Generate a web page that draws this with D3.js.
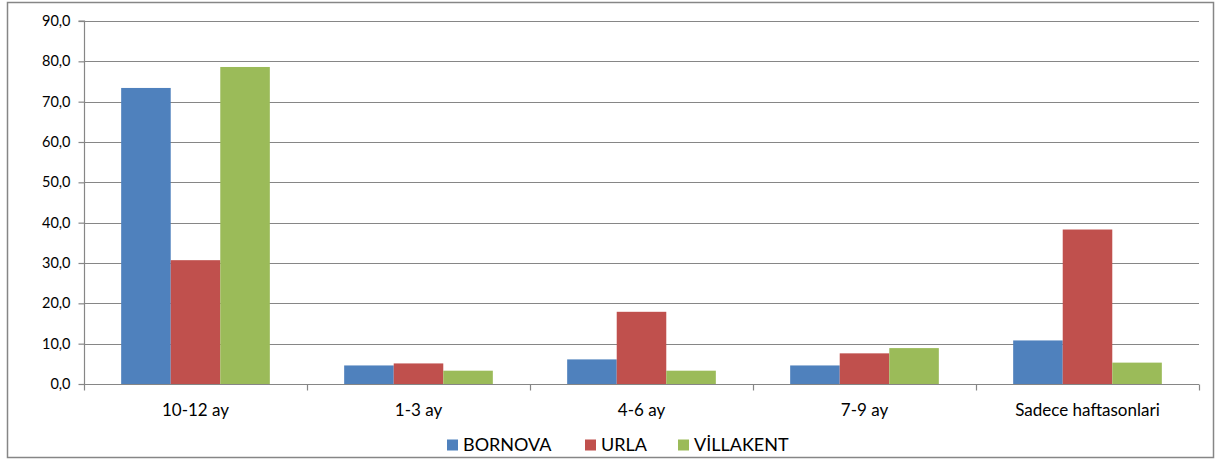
<!DOCTYPE html>
<html><head><meta charset="utf-8">
<script src="https://cdn.jsdelivr.net/npm/d3@7"></script>
<style>body{margin:0;background:#fff}svg{display:block;font-family:Lato,"Open Sans",sans-serif}</style>
</head><body><svg id="c" width="1217" height="461"></svg>
<script>
const categories = ["10-12 ay","1-3 ay","4-6 ay","7-9 ay","Sadece haftasonlari"];
const seriesNames = ["BORNOVA","URLA","VİLLAKENT"];
const bornova = [73.4, 4.6, 6.1, 4.6, 10.8];
const urla = [30.7, 5.1, 17.9, 7.6, 38.3];
const villakent = [78.6, 3.3, 3.3, 8.9, 5.3];
const yTicks = [0,10,20,30,40,50,60,70,80,90];
const colors = ["#4F81BD","#C0504D","#9BBB59"];
const seriesVals = [bornova, urla, villakent];

const svg = d3.select("#c");
svg.append("rect").attr("x",7.5).attr("y",2.5).attr("width",1206).attr("height",455)
  .attr("fill","#fff").attr("stroke","#868686").attr("stroke-width",1.5);

const m = {l:84, r:1199, t:21, b:384};
const y = d3.scaleLinear().domain([0,90]).range([m.b,m.t]);
const x0 = d3.scaleBand().domain(categories).range([m.l,m.r]).paddingInner(0).paddingOuter(0);
const x1 = d3.scaleBand().domain(seriesNames).range([0,x0.bandwidth()]).paddingInner(0).paddingOuter(0.75);

// gridlines
svg.append("g").selectAll("line").data(yTicks.filter(d=>d>0)).join("line")
  .attr("x1",m.l).attr("x2",m.r).attr("y1",d=>Math.round(y(d))+0.5).attr("y2",d=>Math.round(y(d))+0.5)
  .attr("stroke","#868686").attr("stroke-width",1.2);

// bars
const g = svg.append("g");
categories.forEach((c,i)=>{
  seriesNames.forEach((s,j)=>{
    g.append("rect").attr("x",x0(c)+x1(s)).attr("width",x1.bandwidth())
      .attr("y",y(seriesVals[j][i])).attr("height",y(0)-y(seriesVals[j][i]))
      .attr("fill",colors[j]);
  });
});

// y axis
const yAxis = d3.axisLeft(y).tickValues(yTicks).tickSize(6).tickPadding(8)
  .tickFormat(d=>d3.format(".1f")(d).replace(".",","));
const ya = svg.append("g").attr("transform",`translate(${m.l+0.5},0)`).call(yAxis);
ya.select(".domain").attr("stroke","#868686").attr("stroke-width",1.2).attr("d",`M-6,${m.t}H0V${m.b}`);
ya.selectAll(".tick line").attr("stroke","#868686").attr("stroke-width",1.2);
ya.selectAll("text").attr("font-size",14.5).attr("fill","#000").attr("font-family","Lato,sans-serif");

// x axis
const xa = svg.append("g").attr("transform",`translate(0,${m.b+0.5})`);
xa.append("line").attr("x1",m.l).attr("x2",m.r).attr("stroke","#868686").attr("stroke-width",1.2);
const bounds = d3.range(categories.length+1).map(i=>m.l + i*x0.step());
xa.selectAll(".tk").data(bounds).join("line").attr("x1",d=>Math.round(d)+0.5).attr("x2",d=>Math.round(d)+0.5)
  .attr("y1",0).attr("y2",6).attr("stroke","#868686").attr("stroke-width",1.2);
xa.selectAll("text").data(categories).join("text").attr("x",d=>x0(d)+x0.bandwidth()/2).attr("y",31)
  .attr("text-anchor","middle").attr("font-size",17).attr("fill","#000").text(d=>d);

// legend
const legX = [447, 585, 678];
const lg = svg.append("g");
seriesNames.forEach((s,j)=>{
  lg.append("rect").attr("x",legX[j]).attr("y",439.5).attr("width",11).attr("height",11).attr("fill",colors[j]);
  lg.append("text").attr("x",legX[j]+16).attr("y",451).attr("font-size",18).attr("fill","#000").text(s);
});
</script></body></html>
